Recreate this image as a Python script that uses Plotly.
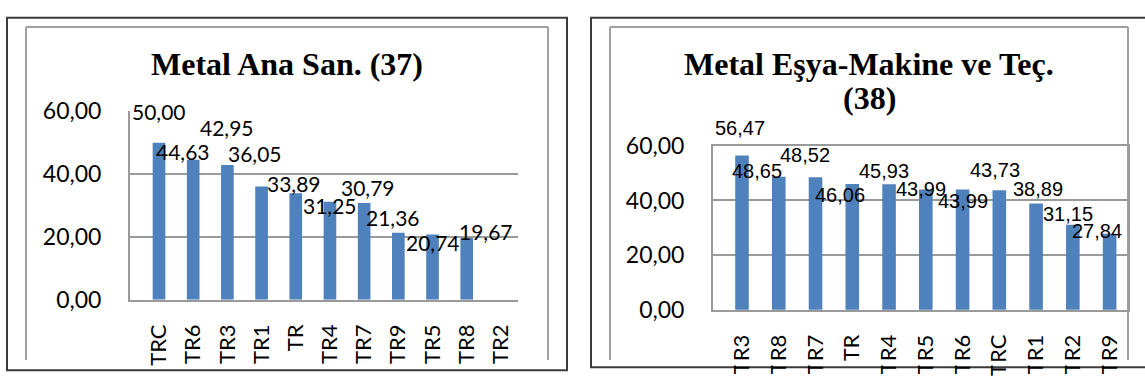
import plotly.graph_objects as go

# ---------------- data ----------------
left_title = "Metal Ana San. (37)"
left_categories = ["TRC", "TR6", "TR3", "TR1", "TR", "TR4", "TR7", "TR9", "TR5", "TR8", "TR2"]
left_values = [50.00, 44.63, 42.95, 36.05, 33.89, 31.25, 30.79, 21.36, 20.74, 19.67, None]

right_title_line1 = "Metal Eşya-Makine ve Teç."
right_title_line2 = "(38)"
right_categories = ["TR3", "TR8", "TR7", "TR", "TR4", "TR5", "TR6", "TRC", "TR1", "TR2", "TR9"]
right_values = [56.47, 48.65, 48.52, 46.06, 45.93, 43.99, 43.99, 43.73, 38.89, 31.15, 27.84]

y_ticks = [0, 20, 40, 60]

# label placement tweaks (pixels: up-shift of label centre above bar top, sideways shift)
left_label_dy = [31, 8, 37, 33, 10, -4, 16, 15, -8, 6, 0]
left_label_dx = [0, -10, 0, -7, -2, 0, 4, -5, 0, 19, 0]
right_label_dy = [27, 6, 22, -11, 13, 1, -11, 20, 14, 11, 3]
right_label_dx = [-2, -22, -11, -12, -5, -5, 0, -4, 2, -5, -13]

# ---------------- layout helpers ----------------
W, H = 1145, 385
def px(x):
    return x / W
def py(y):
    return 1 - y / H

BAR = "#4F81BD"
GRID = "#9a9a9a"
TICKFONT = dict(family="Lato, Open Sans, sans-serif", size=23, color="#000000")
XTICKFONT = dict(family="Lato, Open Sans, sans-serif", size=22, color="#000000")

fig = go.Figure()
fig.add_trace(go.Bar(x=left_categories, y=left_values, marker=dict(color=BAR, line=dict(width=0)),
                     xaxis="x", yaxis="y", showlegend=False, hoverinfo="x+y"))
fig.add_trace(go.Bar(x=right_categories, y=right_values, marker=dict(color=BAR, line=dict(width=0)),
                     xaxis="x2", yaxis="y2", showlegend=False, hoverinfo="x+y"))

def fmt(v):
    return f"{v:.2f}".replace(".", ",")

annotations = []
for c, v, dy, dx in zip(left_categories, left_values, left_label_dy, left_label_dx):
    if v is None:
        continue
    annotations.append(dict(x=c, y=v, xref="x", yref="y", text=fmt(v), showarrow=False,
                            xanchor="center", yanchor="middle", xshift=dx, yshift=dy,
                            font=dict(family="Lato, Open Sans, sans-serif", size=21, color="#000000")))
for c, v, dy, dx in zip(right_categories, right_values, right_label_dy, right_label_dx):
    annotations.append(dict(x=c, y=v, xref="x2", yref="y2", text=fmt(v), showarrow=False,
                            xanchor="center", yanchor="middle", xshift=dx, yshift=dy,
                            font=dict(family="Liberation Sans, Arial, sans-serif",
                                      size=20, color="#000000")))

TITLEFONT = dict(family="Liberation Serif, Times New Roman, serif", size=32, color="#000000")
annotations.append(dict(x=px(287), y=py(53), xref="paper", yref="paper", showarrow=False,
                        text="<b>" + left_title + "</b>", font=TITLEFONT, xanchor="center", yanchor="middle"))
annotations.append(dict(x=px(869), y=py(53), xref="paper", yref="paper", showarrow=False,
                        text="<b>" + right_title_line1 + "</b>", font=TITLEFONT, xanchor="center", yanchor="middle"))
annotations.append(dict(x=px(869), y=py(90), xref="paper", yref="paper", showarrow=False,
                        text="<b>" + right_title_line2 + "</b>", font=TITLEFONT, xanchor="center", yanchor="middle"))

shapes = []
def line(x0, y0, x1, y1, color, width, layer="below"):
    shapes.append(dict(type="line", xref="paper", yref="paper", x0=px(x0), y0=py(y0), x1=px(x1), y1=py(y1),
                       line=dict(color=color, width=width), layer=layer))

# outer panel borders
OUT = "#3c3c3c"
shapes.append(dict(type="rect", xref="paper", yref="paper", x0=px(7), y0=py(383), x1=px(567), y1=py(3),
                   line=dict(color=OUT, width=2), fillcolor="rgba(0,0,0,0)", layer="below"))
shapes.append(dict(type="rect", xref="paper", yref="paper", x0=px(591), y0=py(380), x1=px(1160), y1=py(3),
                   line=dict(color=OUT, width=2), fillcolor="rgba(0,0,0,0)", layer="below"))
# inner chart-area frames (cut at the bottom)
INNER = "#a0a0a0"
line(26, 372, 26, 13, INNER, 2)
line(26, 13, 548, 13, INNER, 2)
line(548, 13, 548, 372, INNER, 2)
line(610, 372, 610, 13, INNER, 2)
line(610, 13, 1128, 13, INNER, 2)
line(1128, 13, 1128, 372, INNER, 2)
# crop of the right chart's category labels
shapes.append(dict(type="rect", xref="paper", yref="paper", x0=px(600), y0=py(378), x1=px(1140), y1=py(373),
                   line=dict(width=0), fillcolor="#ffffff", layer="above"))

fig.update_layout(
    width=W, height=H, margin=dict(l=0, r=0, t=0, b=0),
    paper_bgcolor="#ffffff", plot_bgcolor="rgba(0,0,0,0)",
    separators=",.", bargap=0.63,
    annotations=annotations, shapes=shapes,
    xaxis=dict(domain=[px(130), px(518)], anchor="y", type="category", tickangle=-90,
               tickfont=XTICKFONT, showline=True, linecolor=GRID, linewidth=2, showgrid=False,
               ticks="", ticklabelstandoff=14, fixedrange=True),
    yaxis=dict(domain=[py(307), py(104)], anchor="x", range=[0, 60], tickvals=y_ticks, tickformat=".2f",
               tickfont=TICKFONT, showline=True, linecolor=GRID, linewidth=2, showgrid=True,
               gridcolor=GRID, gridwidth=2, zeroline=False, ticks="", ticklabelstandoff=22, fixedrange=True),
    xaxis2=dict(domain=[px(713), px(1128)], anchor="y2", type="category", tickangle=-90,
                tickfont=XTICKFONT, showline=True, mirror=True, linecolor=GRID, linewidth=2, showgrid=False,
                ticks="", ticklabelstandoff=14, fixedrange=True),
    yaxis2=dict(domain=[py(318), py(141)], anchor="x2", range=[0, 60], tickvals=y_ticks, tickformat=".2f",
                tickfont=TICKFONT, showline=True, mirror=True, linecolor=GRID, linewidth=2, showgrid=True,
                gridcolor=GRID, gridwidth=2, zeroline=False, ticks="", ticklabelstandoff=22, fixedrange=True),
)

fig.write_html("out.html", config={"displayModeBar": False},
               post_script="document.body.style.margin='0';")
